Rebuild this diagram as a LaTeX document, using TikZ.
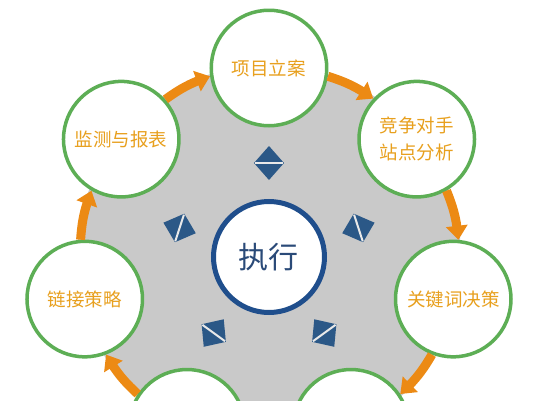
\documentclass[tikz,border=0pt]{standalone}
\usepackage{fontspec}
\setmainfont{Noto Sans CJK SC}
\usepackage{tikz}
\usepackage{xcolor}
\usetikzlibrary{arrows.meta, bending, positioning, calc}

\definecolor{ringgray}{HTML}{C9C9C9}
\definecolor{stagegreen}{HTML}{5DAE55}
\definecolor{stagetext}{HTML}{E8A01E}
\definecolor{flowor}{HTML}{EC8A14}
\definecolor{coreblue}{HTML}{1F4E8C}
\definecolor{coretext}{HTML}{2A4A78}
\definecolor{diamblue}{HTML}{2B5887}

\tikzset{
    stage/.style={circle, draw=stagegreen, line width=3.5pt, fill=white, minimum size=115.5pt, inner sep=0pt, text=stagetext, align=center, font=\fontsize{18.5pt}{27pt}\selectfont},
    core/.style={circle, draw=coreblue, line width=5pt, fill=white, minimum size=111pt, inner sep=0pt, text=coretext, font=\fontsize{30pt}{34pt}\selectfont},
    flow/.style={draw=flowor, line width=9pt, -{Triangle[width=21pt, length=14pt]}},
}

\begin{document}
\begin{tikzpicture}[x=1pt, y=1pt]
    % Frame of the picture
    \useasboundingbox (-269,-143) rectangle (270,257);
    \clip (-269,-143) rectangle (270,257);
    \fill[white] (-269,-143) rectangle (270,257);

    % Gray disc behind the cycle
    \fill[ringgray] (0,0) circle (192);

    % Diamonds round the core
    \foreach \a in {18,90,162,234,306} {
        \begin{scope}[shift={(\a:94)}, rotate=\a-90]
            \fill[diamblue] (0,17) -- (15,0) -- (0,-17) -- (-15,0) -- cycle;
            \draw[ringgray!40!white, line width=2pt] (-14,0) -- (14,0);
        \end{scope}
    }

    % Core and stages
    \node[core] (exec) at (0,0) {执行};
    \node[stage] (proj) at (90:189) {项目立案};
    \node[stage] (comp) at (38.57:189) {竞争对手\\站点分析};
    \node[stage] (kw) at (-12.86:189) {关键词决策};
    \node[stage] (br) at (-64.29:189) {};
    \node[stage] (bl) at (-115.71:189) {};
    \node[stage] (link) at (192.86:189) {链接策略};
    \node[stage] (mon) at (141.43:189) {监测与报表};

    % Arrows between the stages, clockwise
    \foreach \s/\t/\p/\q in {mon/proj/141.43/90, proj/comp/90/38.57, comp/kw/38.57/-12.86,
                             kw/br/-12.86/-64.29, bl/link/-115.71/192.86, link/mon/192.86/141.43} {
        \pgfmathsetmacro\aout{\p-98.6}
        \pgfmathsetmacro\ain{\q+98.6}
        \draw[flow] (\s.\aout) to[bend left=8.5] (\t.\ain);
    }
\end{tikzpicture}
\end{document}
